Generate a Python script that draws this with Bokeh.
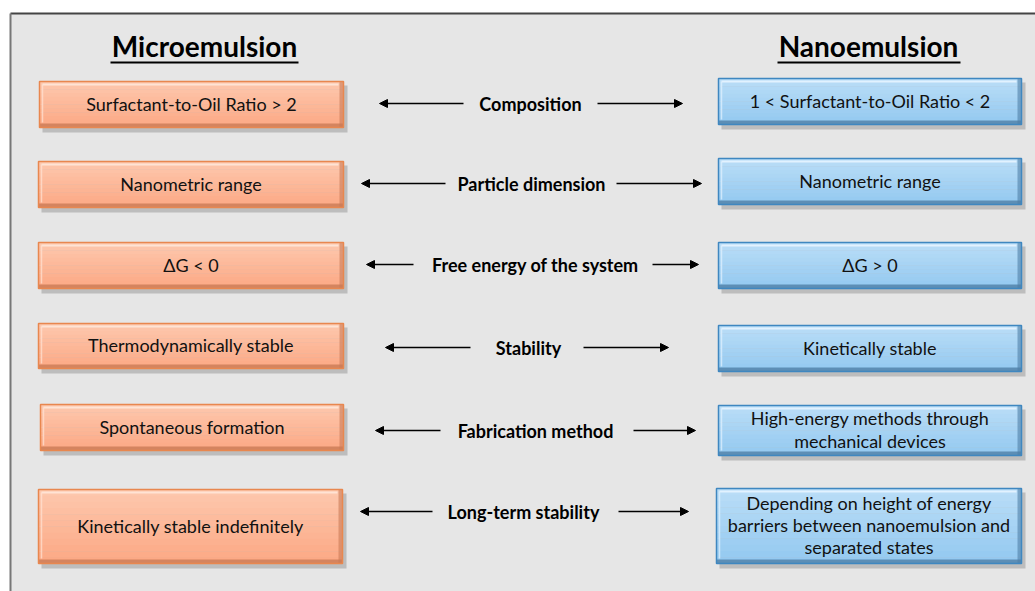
from bokeh.plotting import figure
from bokeh.models import Range1d, ColumnDataSource, Arrow, NormalHead
from bokeh.core.properties import value
from bokeh.embed import file_html
from bokeh.resources import INLINE

# ---- content ----
headers = ["Microemulsion", "Nanoemulsion"]
header_x = [204, 868]
header_y = [45, 45]

mid_labels = ["Composition", "Particle dimension", "Free energy of the system",
              "Stability", "Fabrication method", "Long-term stability"]
mid_x = [530, 531, 535, 528, 535, 523]
mid_y = [103, 183, 264, 347, 430, 511]

left_text = ["Surfactant-to-Oil Ratio > 2", "Nanometric range", "\u0394G < 0",
             "Thermodynamically stable", "Spontaneous formation",
             "Kinetically stable indefinitely"]
right_text = ["1 < Surfactant-to-Oil Ratio < 2", "Nanometric range", "\u0394G > 0",
              "Kinetically stable", "High-energy methods through\nmechanical devices",
              "Depending on height of energy\nbarriers between nanoemulsion and\nseparated states"]

# box extents (reference pixel coordinates)
lb_x0 = [39, 38, 38, 38, 40, 38]
lb_x1 = [343, 343, 343, 343, 343, 342]
lb_top = [81, 161, 242, 323, 404, 489]
lb_bot = [127, 207, 288, 368, 450, 563]

rb_x0 = [718, 718, 718, 718, 718, 716]
rb_x1 = [1021, 1021, 1021, 1021, 1021, 1021]
rb_top = [78, 158, 242, 325, 405, 488]
rb_bot = [124, 204, 288, 371, 455, 563]

# arrows: left arrow (tip on the left), right arrow (tip on the right)
la_start = [463, 445, 413, 470, 440, 432]
la_end = [379, 361, 366, 385, 375, 360]
ra_start = [597, 616, 652, 583, 633, 618]
ra_end = [682, 701, 698, 668, 695, 688]

W, H = 1035, 591
p = figure(width=W, height=H, x_range=Range1d(0, W), y_range=Range1d(H, 0),
           output_backend="svg", toolbar_location=None, min_border=0,
           x_axis_type=None, y_axis_type=None)
p.grid.visible = False
p.outline_line_color = None
p.background_fill_color = "white"
p.border_fill_color = "white"

# panel background and frame
p.quad(left=[10], right=[1040], top=[13], bottom=[600], fill_color="#e6e6e6", line_color=None)
p.segment(x0=[10], y0=[13], x1=[1040], y1=[13], line_color="#444444", line_width=2)
p.segment(x0=[10], y0=[13], x1=[10], y1=[600], line_color="#777777", line_width=2)


def mix(c1, c2, t):
    a = [int(c1[i:i + 2], 16) for i in (1, 3, 5)]
    b = [int(c2[i:i + 2], 16) for i in (1, 3, 5)]
    return "#%02x%02x%02x" % tuple(round(a[k] + (b[k] - a[k]) * t) for k in range(3))


def boxes(x0, x1, top, bot, ctop, cbot, border, dark, light):
    # shadow
    p.quad(left=[a + 3 for a in x0], right=[a + 4 for a in x1],
           top=[a + 4 for a in top], bottom=[a + 5 for a in bot],
           fill_color="#9a9a9a", fill_alpha=0.55, line_color=None)
    # gradient fill
    n = 12
    L, R, T, B, C = [], [], [], [], []
    for i in range(len(x0)):
        h = bot[i] - top[i]
        for k in range(n):
            L.append(x0[i]); R.append(x1[i])
            T.append(top[i] + h * k / n); B.append(top[i] + h * (k + 1) / n + 0.3)
            C.append(mix(ctop, cbot, k / (n - 1)))
    p.quad(left=L, right=R, top=T, bottom=B, fill_color=C, line_color=None)
    # bevel: dark bottom & right band, light top & left line
    p.quad(left=x0, right=x1, top=[b - 4 for b in bot], bottom=bot,
           fill_color=dark, fill_alpha=0.8, line_color=None)
    p.quad(left=[a - 4 for a in x1], right=x1, top=top, bottom=bot,
           fill_color=dark, fill_alpha=0.6, line_color=None)
    p.segment(x0=[a + 3 for a in x0], y0=[t + 3 for t in top], x1=[a - 5 for a in x1],
              y1=[t + 3 for t in top], line_color=light, line_width=2)
    p.segment(x0=[a + 3 for a in x0], y0=[t + 3 for t in top], x1=[a + 3 for a in x0],
              y1=[b - 5 for b in bot], line_color=light, line_width=1.5, line_alpha=0.7)
    # border
    p.quad(left=x0, right=x1, top=top, bottom=bot, fill_color=None,
           line_color=border, line_width=1.5)


boxes(lb_x0, lb_x1, lb_top, lb_bot, "#fdc7ad", "#fca985", "#e8874f", "#c97a55", "#ffe3d4")
boxes(rb_x0, rb_x1, rb_top, rb_bot, "#b9ddf7", "#94c9f0", "#3f87c0", "#4f7fa6", "#e2f2ff")

font = value("Lato")
p.text(x=[(a + b) / 2 for a, b in zip(lb_x0, lb_x1)], y=[(a + b) / 2 - 1 for a, b in zip(lb_top, lb_bot)],
       text=left_text, text_font=font, text_font_size="18px", text_color="#111111",
       text_align="center", text_baseline="middle", text_line_height=1.02)
p.text(x=[(a + b) / 2 for a, b in zip(rb_x0, rb_x1)], y=[(a + b) / 2 - 1 for a, b in zip(rb_top, rb_bot)],
       text=right_text, text_font=font, text_font_size="18px", text_color="#111111",
       text_align="center", text_baseline="middle", text_line_height=1.02)

# headers
p.text(x=header_x, y=header_y, text=headers, text_font=font, text_font_size="28px",
       text_font_style="bold", text_color="#000000", text_align="center", text_baseline="middle")
p.segment(x0=[110, 777], y0=[62, 62], x1=[298, 960], y1=[62, 62], line_color="#000000", line_width=2)

# middle labels
p.text(x=mid_x, y=mid_y, text=mid_labels, text_font=font, text_font_size="18px",
       text_font_style="bold", text_color="#000000", text_align="center", text_baseline="middle")

src = ColumnDataSource(dict(ls=la_start, le=la_end, rs=ra_start, re=ra_end, y=mid_y))
for xs, xe in (("ls", "le"), ("rs", "re")):
    p.add_layout(Arrow(end=NormalHead(size=8, fill_color="black", line_color="black"),
                       x_start=xs, y_start="y", x_end=xe, y_end="y", source=src,
                       line_color="black", line_width=1.6))

open("out.html", "w").write(file_html(p, INLINE))
